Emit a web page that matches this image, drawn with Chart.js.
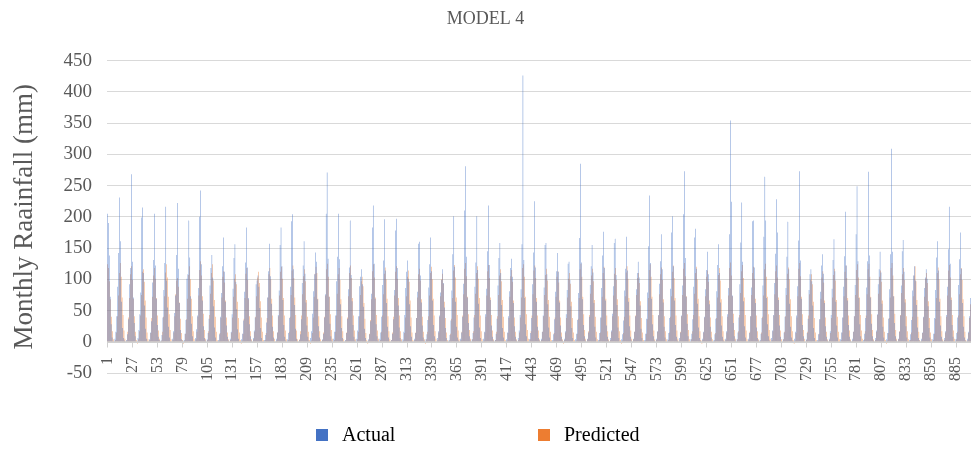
<!DOCTYPE html>
<html>
<head>
<meta charset="utf-8">
<title>MODEL 4</title>
<script src="https://cdn.jsdelivr.net/npm/chart.js@4"></script>
<style>
  body { margin: 0; background: #fff; }
  #wrap { position: relative; width: 976px; height: 449px; }
</style>
</head>
<body>
<div id="wrap"><canvas id="myChart"></canvas></div>
<script>
// Monthly values, one line per year (75 years, 900 months)
const actual = [
  205, 190, 138, 72, 28, 7, 1, 0, 5, 16, 41, 88,
  142, 231, 161, 64, 22, 6, 2, 0, 3, 12, 36, 92,
  118, 268, 128, 71, 30, 9, 1, 1, 6, 19, 44, 79,
  199, 215, 110, 58, 21, 5, 0, 0, 4, 15, 33, 95,
  131, 205, 122, 69, 27, 8, 3, 1, 2, 11, 39, 83,
  126, 216, 98, 55, 24, 7, 1, 0, 5, 17, 46, 74,
  139, 222, 117, 62, 19, 4, 2, 0, 3, 13, 35, 101,
  108, 194, 135, 73, 29, 9, 1, 0, 6, 20, 42, 86,
  200, 242, 124, 66, 25, 6, 2, 1, 4, 14, 37, 90,
  118, 139, 103, 57, 23, 7, 0, 0, 3, 12, 40, 78,
  121, 167, 112, 64, 26, 8, 2, 0, 5, 16, 44, 85,
  134, 156, 96, 52, 20, 5, 1, 0, 4, 13, 34, 80,
  127, 183, 119, 70, 28, 9, 2, 1, 6, 18, 39, 92,
  98, 106, 88, 54, 22, 6, 0, 0, 3, 11, 31, 71,
  113, 157, 105, 61, 24, 7, 1, 0, 5, 15, 43, 82,
  155, 183, 121, 67, 27, 8, 2, 0, 4, 14, 38, 88,
  193, 204, 116, 59, 21, 5, 1, 1, 3, 12, 36, 94,
  122, 161, 109, 63, 26, 8, 2, 0, 6, 17, 45, 81,
  108, 143, 128, 68, 25, 7, 1, 0, 4, 13, 39, 76,
  205, 271, 133, 72, 29, 9, 2, 0, 5, 16, 42, 97,
  136, 205, 132, 60, 22, 6, 1, 0, 3, 14, 37, 84,
  119, 194, 107, 65, 27, 8, 2, 1, 5, 18, 41, 89,
  104, 116, 92, 56, 21, 6, 0, 0, 4, 12, 33, 77,
  183, 218, 125, 69, 28, 9, 2, 0, 5, 15, 40, 91,
  130, 196, 114, 62, 24, 7, 1, 0, 3, 13, 36, 83,
  178, 197, 118, 58, 23, 6, 2, 1, 4, 16, 43, 86,
  112, 130, 101, 60, 25, 8, 1, 0, 5, 14, 38, 80,
  157, 160, 106, 63, 26, 7, 2, 0, 4, 12, 35, 87,
  124, 167, 113, 66, 27, 9, 1, 0, 6, 17, 42, 79,
  99, 116, 94, 55, 22, 6, 0, 0, 3, 11, 34, 82,
  140, 201, 120, 64, 24, 7, 2, 1, 5, 15, 40, 93,
  210, 281, 136, 71, 30, 9, 2, 0, 4, 14, 39, 88,
  127, 201, 115, 61, 23, 6, 1, 0, 5, 16, 44, 85,
  145, 218, 123, 67, 26, 8, 2, 0, 3, 13, 37, 90,
  134, 158, 110, 59, 22, 7, 1, 1, 4, 15, 41, 81,
  118, 133, 104, 62, 25, 8, 2, 0, 6, 18, 43, 84,
  156, 426, 131, 70, 28, 9, 1, 0, 4, 14, 38, 92,
  143, 225, 119, 64, 24, 6, 2, 0, 5, 16, 42, 87,
  155, 158, 108, 60, 23, 7, 1, 0, 3, 12, 36, 80,
  113, 142, 112, 63, 26, 8, 2, 1, 5, 17, 44, 83,
  125, 128, 99, 57, 22, 6, 0, 0, 4, 13, 35, 78,
  166, 285, 127, 68, 27, 9, 2, 0, 5, 15, 40, 91,
  121, 155, 111, 62, 24, 7, 1, 0, 3, 14, 39, 86,
  138, 176, 118, 66, 26, 8, 2, 1, 6, 18, 45, 89,
  158, 165, 107, 59, 23, 6, 1, 0, 4, 12, 34, 82,
  117, 168, 114, 64, 25, 8, 2, 0, 5, 16, 41, 84,
  110, 128, 103, 58, 21, 6, 1, 0, 3, 13, 37, 79,
  153, 234, 126, 69, 28, 9, 2, 0, 5, 17, 43, 93,
  129, 172, 116, 63, 24, 7, 1, 1, 4, 14, 38, 85,
  175, 201, 121, 66, 27, 8, 2, 0, 6, 15, 42, 90,
  204, 273, 134, 72, 29, 9, 1, 0, 4, 13, 36, 88,
  167, 181, 117, 61, 23, 6, 2, 0, 5, 16, 40, 84,
  115, 144, 108, 60, 24, 7, 1, 0, 3, 12, 37, 81,
  123, 156, 110, 63, 26, 8, 2, 1, 5, 17, 44, 86,
  172, 354, 224, 74, 30, 9, 2, 0, 4, 15, 39, 92,
  159, 223, 128, 65, 25, 7, 1, 0, 5, 14, 41, 87,
  193, 194, 119, 62, 23, 6, 2, 0, 3, 13, 38, 90,
  168, 264, 194, 70, 28, 9, 2, 1, 6, 18, 43, 94,
  141, 228, 175, 67, 26, 8, 1, 0, 4, 15, 40, 86,
  136, 192, 116, 61, 24, 7, 2, 0, 5, 16, 42, 89,
  162, 273, 130, 69, 27, 9, 1, 0, 4, 14, 37, 83,
  108, 116, 97, 58, 22, 6, 1, 0, 3, 12, 36, 80,
  122, 140, 109, 62, 25, 8, 2, 1, 5, 17, 43, 85,
  131, 164, 113, 64, 26, 7, 1, 0, 4, 15, 39, 88,
  137, 208, 122, 66, 27, 8, 2, 0, 5, 16, 41, 91,
  172, 249, 129, 70, 28, 9, 1, 0, 3, 13, 38, 87,
  129, 272, 138, 71, 29, 9, 2, 1, 6, 18, 44, 92,
  116, 144, 111, 61, 24, 7, 1, 0, 4, 14, 37, 84,
  140, 309, 144, 73, 30, 9, 2, 0, 5, 16, 42, 90,
  145, 163, 112, 63, 25, 7, 1, 0, 3, 12, 35, 82,
  106, 121, 98, 59, 23, 6, 2, 0, 5, 15, 40, 86,
  103, 116, 101, 57, 22, 7, 1, 1, 4, 13, 38, 83,
  135, 161, 114, 64, 26, 8, 2, 0, 6, 17, 43, 88,
  148, 216, 125, 67, 27, 8, 1, 0, 4, 14, 39, 91,
  132, 175, 117, 62, 24, 7, 2, 0, 5, 16, 41, 70
];

const predicted = [
  124, 118, 97, 68, 40, 17, 4, -2, 3, 15, 41, 74,
  110, 126, 104, 71, 43, 18, 5, -1, 2, 16, 39, 70,
  108, 121, 99, 69, 41, 16, 3, -3, 4, 17, 42, 75,
  112, 116, 96, 66, 39, 15, 4, -2, 3, 14, 38, 72,
  106, 118, 101, 70, 42, 18, 5, -1, 2, 16, 40, 73,
  111, 124, 103, 72, 44, 19, 4, -2, 3, 15, 41, 76,
  98, 102, 88, 63, 37, 14, 3, -3, 2, 13, 36, 69,
  107, 121, 100, 69, 41, 17, 4, -1, 4, 16, 40, 74,
  115, 129, 106, 73, 45, 19, 5, -2, 3, 17, 43, 77,
  110, 124, 98, 67, 40, 16, 3, -2, 2, 14, 38, 71,
  104, 113, 95, 66, 39, 15, 4, -1, 3, 15, 39, 72,
  101, 108, 92, 64, 38, 15, 3, -3, 2, 13, 37, 70,
  109, 118, 99, 68, 41, 17, 4, -2, 4, 16, 40, 73,
  103, 112, 94, 65, 39, 16, 3, -1, 3, 14, 38, 71,
  108, 118, 100, 69, 42, 17, 5, -2, 2, 15, 41, 74,
  112, 120, 101, 70, 42, 18, 4, -1, 3, 16, 40, 75,
  114, 122, 102, 71, 43, 18, 4, -2, 4, 17, 42, 76,
  105, 116, 97, 67, 40, 16, 3, -3, 2, 14, 39, 72,
  109, 120, 110, 69, 41, 17, 4, -1, 3, 15, 40, 74,
  116, 125, 104, 72, 44, 19, 5, -2, 3, 16, 42, 77,
  108, 118, 99, 68, 41, 17, 4, -1, 2, 15, 39, 73,
  110, 122, 102, 70, 42, 18, 4, -2, 4, 16, 41, 75,
  97, 104, 89, 62, 37, 14, 3, -3, 2, 13, 35, 68,
  113, 124, 103, 71, 43, 18, 5, -1, 3, 16, 42, 76,
  109, 119, 100, 69, 41, 17, 4, -2, 3, 15, 40, 74,
  112, 121, 101, 70, 42, 17, 4, -1, 2, 14, 39, 73,
  104, 114, 96, 66, 39, 15, 3, -2, 3, 15, 38, 71,
  108, 117, 98, 68, 40, 16, 4, -3, 4, 16, 41, 74,
  110, 120, 100, 69, 42, 17, 5, -1, 3, 15, 40, 73,
  100, 109, 93, 64, 38, 15, 3, -2, 2, 13, 37, 70,
  114, 123, 103, 71, 43, 18, 4, -1, 3, 16, 42, 76,
  117, 126, 105, 72, 44, 19, 5, -2, 4, 17, 43, 77,
  110, 121, 101, 70, 42, 17, 4, -1, 2, 15, 40, 74,
  113, 123, 102, 71, 43, 18, 4, -2, 3, 16, 41, 75,
  106, 116, 97, 67, 40, 16, 3, -3, 2, 14, 38, 72,
  105, 115, 96, 66, 39, 16, 4, -1, 3, 15, 39, 71,
  118, 124, 104, 72, 44, 19, 5, -2, 4, 17, 42, 76,
  114, 122, 102, 70, 42, 18, 4, -1, 3, 16, 41, 75,
  107, 117, 98, 67, 40, 16, 3, -2, 2, 14, 39, 72,
  104, 113, 95, 66, 39, 15, 4, -3, 3, 15, 38, 71,
  101, 110, 93, 64, 38, 15, 3, -1, 2, 13, 37, 70,
  116, 125, 104, 72, 44, 19, 5, -2, 4, 17, 43, 77,
  106, 117, 97, 67, 40, 16, 4, -1, 3, 15, 39, 72,
  110, 120, 100, 69, 42, 17, 4, -2, 3, 16, 41, 74,
  109, 118, 99, 68, 41, 17, 3, -3, 2, 14, 40, 73,
  111, 121, 101, 70, 42, 18, 5, -1, 4, 16, 42, 75,
  102, 110, 94, 65, 38, 15, 3, -2, 2, 13, 36, 70,
  115, 124, 104, 72, 43, 18, 4, -1, 3, 16, 42, 76,
  108, 119, 99, 68, 41, 17, 4, -2, 3, 15, 40, 73,
  112, 122, 102, 70, 42, 18, 5, -1, 2, 16, 41, 75,
  117, 126, 105, 73, 44, 19, 4, -2, 4, 17, 43, 77,
  110, 120, 100, 69, 41, 17, 3, -3, 3, 15, 39, 73,
  104, 114, 96, 66, 39, 16, 4, -1, 2, 14, 38, 71,
  107, 118, 98, 68, 41, 17, 4, -2, 3, 15, 40, 74,
  118, 127, 106, 73, 45, 19, 5, -1, 4, 17, 43, 78,
  113, 123, 102, 71, 43, 18, 4, -2, 3, 16, 41, 75,
  110, 120, 101, 69, 42, 17, 4, -1, 2, 15, 40, 74,
  116, 125, 104, 72, 44, 19, 5, -2, 3, 17, 42, 76,
  113, 122, 103, 71, 43, 18, 4, -1, 4, 16, 41, 75,
  109, 119, 100, 68, 41, 17, 3, -3, 2, 14, 39, 73,
  117, 126, 105, 72, 44, 19, 5, -2, 3, 16, 42, 76,
  99, 108, 92, 64, 38, 15, 3, -1, 2, 13, 36, 69,
  103, 113, 95, 66, 39, 16, 4, -2, 3, 14, 38, 71,
  107, 117, 98, 67, 40, 16, 4, -1, 3, 15, 39, 73,
  112, 122, 102, 70, 42, 18, 4, -2, 2, 16, 41, 75,
  115, 124, 103, 71, 43, 18, 5, -1, 4, 17, 42, 76,
  116, 125, 104, 72, 44, 19, 4, -2, 3, 16, 43, 77,
  104, 114, 96, 66, 39, 16, 3, -3, 2, 14, 38, 71,
  118, 126, 106, 73, 45, 19, 5, -1, 4, 17, 43, 78,
  108, 118, 99, 68, 41, 17, 4, -2, 3, 15, 40, 73,
  106, 121, 97, 67, 40, 16, 3, -1, 2, 14, 39, 72,
  101, 110, 94, 65, 38, 15, 4, -2, 3, 13, 37, 70,
  110, 119, 100, 69, 41, 17, 4, -1, 3, 15, 40, 74,
  114, 123, 103, 71, 43, 18, 5, -2, 4, 16, 42, 76,
  108, 118, 99, 68, 41, 16, 3, -1, 2, 14, 38, 60
];

// month numbers on the category axis, a label every 26th month
const months = actual.map((_, i) => String(i + 1));
const labelStep = 26;

const serif = 'Liberation Serif, Times New Roman, serif';
const grey = '#595959';
const xFontSize = 16;

// legend drawn by hand so the two entries can sit far apart like the original
const spacedLegend = {
  id: 'spacedLegend',
  afterDraw(chart) {
    const ctx = chart.ctx;
    const mid = chart.width / 2;
    const y = 435;
    const spots = [mid - 172, mid + 50];
    ctx.save();
    ctx.font = '20px ' + serif;
    ctx.textBaseline = 'middle';
    chart.data.datasets.forEach((ds, i) => {
      const x = spots[i];
      ctx.fillStyle = ds.backgroundColor;
      ctx.fillRect(x, y - 6, 12, 12);
      ctx.fillStyle = '#000';
      ctx.fillText(ds.label, x + 26, y + 1);
    });
    ctx.restore();
  }
};

// category axis line on zero with small tick marks at every labelled month
const zeroAxis = {
  id: 'zeroAxis',
  afterDatasetsDraw(chart) {
    const {ctx, scales: {x, y}} = chart;
    const y0 = Math.round(y.getPixelForValue(0)) + 0.5;
    const step = x.width / months.length;
    ctx.save();
    ctx.lineWidth = 1;
    ctx.strokeStyle = '#d0d0d0';
    ctx.beginPath();
    ctx.moveTo(chart.chartArea.left, y0);
    ctx.lineTo(chart.chartArea.right, y0);
    for (let i = 0; i < months.length; i += labelStep) {
      const px = Math.round(x.getPixelForValue(i) - step / 2) + 0.5;
      ctx.moveTo(px, y0);
      ctx.lineTo(px, y0 + 5);
    }
    ctx.stroke();
    ctx.restore();
  }
};

const ctx = document.getElementById('myChart').getContext('2d');
const chart = new Chart(ctx, {
  type: 'bar',
  data: {
    labels: months,
    datasets: [{
      label: 'Actual',
      data: actual,
      backgroundColor: '#4472C4',
      borderWidth: 0
    }, {
      label: 'Predicted',
      data: predicted,
      backgroundColor: '#ED7D31',
      borderWidth: 0
    }]
  },
  options: {
    responsive: true,
    maintainAspectRatio: false,
    animation: false,
    devicePixelRatio: 1,
    categoryPercentage: 0.9,
    barPercentage: 0.9,
    layout: { padding: { left: 0, right: 5, top: 0, bottom: 72 } },
    plugins: {
      legend: { display: false },
      tooltip: { enabled: false },
      title: {
        display: true,
        text: 'MODEL 4',
        color: grey,
        font: { family: serif, size: 18, weight: 'normal' },
        padding: { top: 8, bottom: 31 }
      }
    },
    scales: {
      x: {
        position: 'bottom',
        grid: { display: false, drawTicks: false },
        border: { display: false },
        ticks: {
          autoSkip: false,
          minRotation: 90,
          maxRotation: 90,
          mirror: true,
          padding: 16,
          labelOffset: xFontSize * 1.2,
          color: grey,
          font: { family: serif, size: xFontSize },
          callback: (v, i) => (i % labelStep === 0 ? months[i] : '')
        },
        afterFit: s => { s.paddingLeft = 0; s.paddingRight = 0; s.height = 4; }
      },
      y: {
        min: -50,
        max: 450,
        grid: { color: '#d9d9d9', drawTicks: false },
        border: { display: false },
        ticks: {
          stepSize: 50,
          padding: 15,
          color: grey,
          font: { family: serif, size: 19 }
        },
        title: {
          display: true,
          text: 'Monthly Raainfall (mm)',
          color: grey,
          font: { family: serif, size: 27 },
          padding: { top: 9, bottom: 23 }
        },
        afterFit: s => { s.width = 107; }
      }
    }
  },
  plugins: [spacedLegend, zeroAxis]
});
</script>
</body>
</html>
